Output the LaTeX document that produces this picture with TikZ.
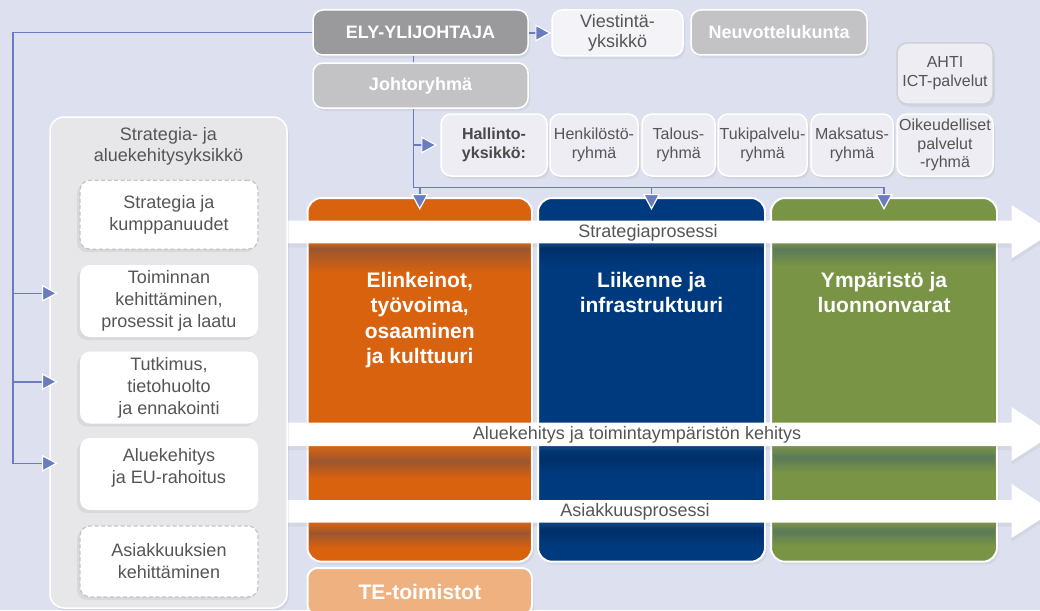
\documentclass[tikz,border=0pt]{standalone}
\usepackage{fontspec}
\setmainfont{Liberation Sans}
\usetikzlibrary{arrows.meta,shadows}
\pgfdeclarelayer{back}
\pgfdeclarelayer{lines}
\pgfsetlayers{back,lines,main}
\definecolor{bgc}{HTML}{DDE0EF}
\definecolor{conncol}{HTML}{6B7CBE}
\definecolor{txtgray}{HTML}{555555}
\definecolor{txtdark}{HTML}{4A4A4A}
\definecolor{elyc}{HTML}{9A9A9D}
\definecolor{johc}{HTML}{C3C3C6}
\definecolor{hallc}{HTML}{EDEDF3}
\definecolor{viestc}{HTML}{F4F4F8}
\definecolor{panelc}{HTML}{E7E7EA}
\definecolor{orangec}{HTML}{D9620E}
\definecolor{orangedk}{HTML}{9C5630}
\definecolor{bluec}{HTML}{003A7E}
\definecolor{bluedk}{HTML}{002F68}
\definecolor{greenc}{HTML}{7A9445}
\definecolor{greendk}{HTML}{5A7A5A}
\definecolor{tec}{HTML}{EFB17F}
\definecolor{dashc}{HTML}{C6C6CA}
\definecolor{ahtic}{HTML}{CFCFD6}
\newcommand\myfs[2]{\fontsize{#1pt}{#2pt}\selectfont}
\newcommand\bshade[7]{%
  \shade[top color=#3,bottom color=#4] (#1,#5) rectangle (#2,#6);
  \shade[top color=#4,bottom color=#3] (#1,#6) rectangle (#2,#7);}
\begin{document}
\begin{tikzpicture}[x=1pt,y=-1pt,
  conn/.style={draw=conncol,line width=1.6pt},
  tip/.style={-{Triangle[width=17pt,length=16pt,color=white,fill=conncol,line width=1.2pt]}},
  shad/.style={drop shadow={shadow xshift=2pt,shadow yshift=-3pt,opacity=0.12}},
  tbox/.style={rounded corners=10pt,draw=white,line width=1.5pt,align=center,inner sep=2pt,shad},
  topdark/.style={tbox,fill=elyc,text=white,font=\bfseries\myfs{18}{21},minimum width=215pt,minimum height=45pt},
  hbox/.style={tbox,fill=hallc,text=txtgray,font=\myfs{16}{18.5},minimum height=62pt,inner sep=1pt},
  col/.style={rounded corners=14pt,draw=white,line width=2pt,inner sep=0pt,shad},
  colT/.style={text=white,font=\bfseries\myfs{21}{25.5},align=center,anchor=north,inner sep=0pt},
  band/.style={fill=white,drop shadow={shadow xshift=0pt,shadow yshift=-4pt,opacity=0.10}},
  btext/.style={text=txtgray,font=\myfs{18}{21},inner sep=0pt},
  ibox/.style={fill=white,rounded corners=10pt,minimum width=178pt,align=center,text=txtgray,font=\myfs{18}{22},inner sep=2pt,drop shadow={shadow xshift=-3pt,shadow yshift=-3pt,opacity=0.13}},
  dbox/.style={ibox,draw=dashc,line width=1.3pt,dash pattern=on 4pt off 2.5pt}
]
\useasboundingbox (0,0) rectangle (1040,610);
\begin{pgfonlayer}{back}
  \fill[bgc] (0,0) rectangle (1040,610);
  % columns
  \node[col,fill=orangec,minimum width=224.5pt,minimum height=363.7pt] (orange) at (419.75,379.85) {};
  \node[col,fill=bluec,minimum width=227pt,minimum height=363.7pt] (blue) at (651.5,379.85) {};
  \node[col,fill=greenc,minimum width=226pt,minimum height=363.7pt] (green) at (884,379.85) {};
  % shadows of the process bands
  \bshade{309.5}{530}{orangec}{orangedk}{243}{248}{273}
  \bshade{309.5}{530}{orangec}{orangedk}{446}{461}{478}
  \bshade{309.5}{530}{orangec}{orangedk}{523}{533}{548}
  \bshade{540}{763}{bluec}{bluedk}{243}{248}{268}
  \bshade{540}{763}{bluec}{bluedk}{446}{458}{474}
  \bshade{540}{763}{bluec}{bluedk}{523}{531}{546}
  \bshade{773}{995}{greenc}{greendk}{243}{249}{266}
  \bshade{773}{995}{greenc}{greendk}{446}{457}{473}
  \bshade{773}{995}{greenc}{greendk}{523}{531}{546}
  % column texts
  \node[colT] (orangeT) at (419.75,272) {Elinkeinot,\\työvoima,\\osaaminen\\ja kulttuuri};
  \node[colT] (blueT) at (651.5,272) {Liikenne ja\\infrastruktuuri};
  \node[colT] (greenT) at (884,272) {Ympäristö ja\\luonnonvarat};
  % process bands
  \fill[band] (280,220.7) -- (1011.5,220.7) -- (1011.5,205) -- (1053,231.8) -- (1011.5,258.5) -- (1011.5,243.3) -- (280,243.3) -- cycle;
  \fill[band] (280,422.7) -- (1011.5,422.7) -- (1011.5,407) -- (1053,434.3) -- (1011.5,461) -- (1011.5,446) -- (280,446) -- cycle;
  \fill[band] (280,500) -- (1011.5,500) -- (1011.5,484) -- (1053,511.3) -- (1011.5,538) -- (1011.5,522.7) -- (280,522.7) -- cycle;
  \node[btext] (sp) at (648,232.5) {Strategiaprosessi};
  \node[btext] (alk) at (637,435) {Aluekehitys ja toimintaympäristön kehitys};
  \node[btext] (asp) at (635,512) {Asiakkuusprosessi};
  % left panel
  \node[fill=panelc,draw=white,line width=1.5pt,rounded corners=14pt,minimum width=237pt,minimum height=491pt,shad] (sal) at (168.5,362.5) {};
  \node[text=txtgray,font=\myfs{18}{21},align=center,inner sep=0pt] (salT) at (168.5,146.5) {Strategia- ja\\aluekehitysyksikkö};
  \node[dbox,minimum height=69pt] (strat) at (169,214.7) {Strategia ja\\kumppanuudet};
  \node[ibox,minimum height=72pt] (toim) at (169,301) {Toiminnan\\kehittäminen,\\prosessit ja laatu};
  \node[ibox,minimum height=72pt] (tutk) at (169,387.5) {Tutkimus,\\tietohuolto\\ja ennakointi};
  \node[ibox,minimum height=72pt] (alue) at (169,474) {Aluekehitys\\ja EU-rahoitus\\[-6pt]\mbox{}};
  \node[dbox,minimum height=71pt] (asiak) at (169,561.4) {Asiakkuuksien\\kehittäminen};
\end{pgfonlayer}
% top boxes
\node[topdark] (ely) at (420.5,32.5) {ELY-YLIJOHTAJA};
\node[topdark,fill=johc] (johto) at (420.5,85.5) {Johtoryhmä};
\node[tbox,fill=viestc,text=txtgray,font=\myfs{18}{20},minimum width=131pt,minimum height=46pt] (viest) at (617.5,33) {Viestintä-\\yksikkö};
\node[topdark,fill=johc,minimum width=176pt] (neuv) at (779,32.5) {Neuvottelukunta};
\node[tbox,draw=ahtic,fill=hallc,text=txtgray,font=\myfs{16}{19},minimum width=96pt,minimum height=61pt] (ahti) at (945,73.5) {AHTI\\ICT-palvelut};
\node[hbox,minimum width=106pt,font=\bfseries\myfs{16}{18.5},text=txtdark] (hall) at (494,145) {Hallinto-\\yksikkö:};
\node[hbox,minimum width=88pt] (henk) at (594,145) {Henkilöstö-\\ryhmä};
\node[hbox,minimum width=73pt] (talous) at (678.5,145) {Talous-\\ryhmä};
\node[hbox,minimum width=89pt] (tuki) at (762.5,145) {Tukipalvelu-\\ryhmä};
\node[hbox,minimum width=82pt] (maks) at (852,145) {Maksatus-\\ryhmä};
\node[hbox,minimum width=96pt] (oik) at (945,145) {Oikeudelliset\\palvelut\\-ryhmä};
\node[tbox,fill=tec,text=white,font=\bfseries\myfs{21}{24},minimum width=224.5pt,minimum height=47pt,line width=2pt] (te) at (419.75,591.5) {TE-toimistot};
% connector helpers
\coordinate (fbx) at (12.7,0);
\coordinate (vx) at (413.3,0);
\coordinate (bus) at (0,187.3);
\coordinate (toimA) at ([xshift=-22pt,yshift=7.7pt]toim.west);
\coordinate (tutkA) at ([xshift=-22pt,yshift=5.8pt]tutk.west);
\coordinate (alueA) at ([xshift=-22pt,yshift=10.7pt]alue.west);
\begin{pgfonlayer}{lines}
  \draw[conn,tip] (ely.west) -| (fbx |- alueA) -- (alueA);
  \draw[conn,tip] (fbx |- toimA) -- (toimA);
  \draw[conn,tip] (fbx |- tutkA) -- (tutkA);
  \draw[conn,tip] (viest.west -| ely.east) -- (viest.west);
  \draw[conn,tip] (vx |- ely.south) -- (vx |- bus) -| ([yshift=-13pt]green.north);
  \draw[conn,tip] (orange.north |- bus) -- ([yshift=-13pt]orange.north);
  \draw[conn,tip] (blue.north |- bus) -- ([yshift=-13pt]blue.north);
  \draw[conn,tip] (vx |- hall.west) -- ([xshift=-3pt]hall.west);
\end{pgfonlayer}
\end{tikzpicture}
\end{document}
